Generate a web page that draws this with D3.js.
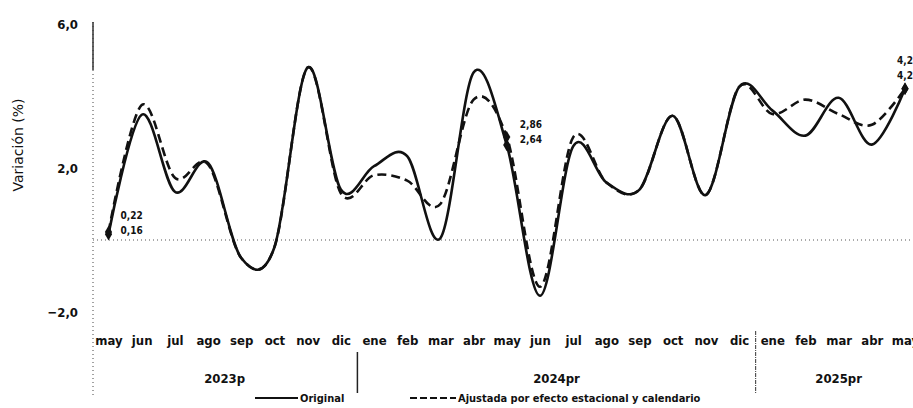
<!DOCTYPE html>
<html><head><meta charset="utf-8">
<script src="https://cdn.jsdelivr.net/npm/d3@7"></script>
<style>
html,body{margin:0;padding:0;background:#fff;}
svg{display:block;}
text{fill:#111;}
</style></head>
<body><svg id="c" width="913" height="408"></svg>
<script>
const months = ["may","jun","jul","ago","sep","oct","nov","dic","ene","feb","mar","abr","may","jun","jul","ago","sep","oct","nov","dic","ene","feb","mar","abr","may"];
const years = ["2023p","2024pr","2025pr"];
const yearStart = [0, 8, 20];
const yearEnd = [7, 19, 24];
const original = [0.16,3.48,1.34,2.14,-0.5,-0.2,4.79,1.4, 2.05,2.33,0.05,4.65,2.64,-1.55,2.6,1.6,1.4,3.45,1.25,4.25, 3.6,2.9,3.95,2.65,4.2];
const adjusted = [0.22,3.75,1.73,2.1,-0.5,-0.2,4.79,1.3, 1.8,1.65,1.0,3.9,2.86,-1.3,2.85,1.6,1.4,3.45,1.25,4.25, 3.5,3.9,3.5,3.2,4.2];
const yTicks = [6, 2, -2];
const labelIdx = [0, 12, 24];
const labelOrig = ["0,16","2,64","4,2"];
const labelAdj = ["0,22","2,86","4,2"];
const seriesNames = ["Original","Ajustada por efecto estacional y calendario"];

const svg = d3.select("#c");
const font = "'DejaVu Sans Condensed','DejaVu Sans',sans-serif";
const idx = months.map((m,i)=>i);
const x = d3.scalePoint().domain(idx).range([108.5, 905]);
const y = d3.scaleLinear().domain([-2, 6]).range([312, 24]);

// axes lines
svg.append("line").attr("x1",93).attr("x2",93).attr("y1",22).attr("y2",395)
  .attr("stroke","#444").attr("stroke-width",1).attr("stroke-dasharray","1,3");
svg.append("line").attr("x1",93).attr("x2",93).attr("y1",22).attr("y2",70)
  .attr("stroke","#333").attr("stroke-width",1.5);
svg.append("line").attr("x1",93).attr("x2",913).attr("y1",y(0)).attr("y2",y(0))
  .attr("stroke","#555").attr("stroke-width",1).attr("stroke-dasharray","1,3");

// y tick labels
svg.selectAll("text.yt").data(yTicks).join("text").attr("class","yt")
  .attr("x",78).attr("y",d=>y(d)).attr("dy","0.35em").attr("text-anchor","end")
  .style("font-family",font).style("font-size","13px").style("font-weight","bold")
  .text(d=>d3.format(".1f")(d).replace(".",","));

svg.append("text").attr("transform","translate(23,145) rotate(-90)")
  .attr("text-anchor","middle").style("font-family","'DejaVu Sans',sans-serif")
  .style("font-size","14px").style("font-weight","500").text("Variación (%)");

// x axis labels
const xa = svg.append("g").attr("transform","translate(0,332)")
  .call(d3.axisBottom(x).tickSize(0).tickPadding(4).tickFormat(i=>months[i]));
xa.select(".domain").remove();
xa.selectAll("text").style("font-family",font).style("font-size","13px").style("font-weight","bold").attr("fill","#111");

// year labels
svg.selectAll("text.yr").data(years).join("text").attr("class","yr")
  .attr("x",(d,i)=>(x(yearStart[i])+x(yearEnd[i]))/2).attr("y",383).attr("text-anchor","middle")
  .style("font-family",font).style("font-size","13px").style("font-weight","bold").text(d=>d);

// separators
svg.append("line").attr("x1",(x(7)+x(8))/2).attr("x2",(x(7)+x(8))/2).attr("y1",352).attr("y2",393)
  .attr("stroke","#222").attr("stroke-width",1.5);
svg.append("line").attr("x1",(x(19)+x(20))/2).attr("x2",(x(19)+x(20))/2).attr("y1",331).attr("y2",393)
  .attr("stroke","#333").attr("stroke-width",1).attr("stroke-dasharray","4,1,1,1");

// lines
const line = d3.line().x((d,i)=>x(i)).y(d=>y(d)).curve(d3.curveCardinal.tension(0));
svg.append("path").datum(adjusted).attr("d",line).attr("fill","none")
  .attr("stroke","#111").attr("stroke-width",2.6).attr("stroke-dasharray","9,5");
svg.append("path").datum(original).attr("d",line).attr("fill","none")
  .attr("stroke","#111").attr("stroke-width",2.6);

// markers
const diamond = d3.symbol().type(d3.symbolDiamond).size(45);
labelIdx.forEach(i=>{
  [original[i], adjusted[i]].forEach(v=>{
    svg.append("path").attr("d",diamond).attr("transform",`translate(${x(i)},${y(v)})`).attr("fill","#111");
  });
});
// value labels
const lblOff = [[12,-25],[13,-21],[-8,-37]];
labelIdx.forEach((i,k)=>{
  const v = Math.max(original[i],adjusted[i]);
  const bx = x(i)+lblOff[k][0];
  svg.append("text").attr("x",bx).attr("y",y(v)+lblOff[k][1]+12).style("font-family",font)
    .style("font-size","10px").style("font-weight","bold").text(labelAdj[k]);
  svg.append("text").attr("x",bx).attr("y",y(v)+lblOff[k][1]+27).style("font-family",font)
    .style("font-size","10px").style("font-weight","bold").text(labelOrig[k]);
});

// legend
const lg = svg.append("g").attr("transform","translate(0,398)");
lg.append("line").attr("x1",255).attr("x2",298).attr("y1",0).attr("y2",0).attr("stroke","#111").attr("stroke-width",2.2);
lg.append("text").attr("x",300).attr("y",0).attr("dy","0.35em").style("font-family",font)
  .style("font-size","11px").style("font-weight","bold").text(seriesNames[0]);
lg.append("line").attr("x1",410).attr("x2",456).attr("y1",0).attr("y2",0).attr("stroke","#111").attr("stroke-width",2.2).attr("stroke-dasharray","7,3");
lg.append("text").attr("x",458).attr("y",0).attr("dy","0.35em").style("font-family",font)
  .style("font-size","11px").style("font-weight","bold").text(seriesNames[1]);
</script></body></html>
